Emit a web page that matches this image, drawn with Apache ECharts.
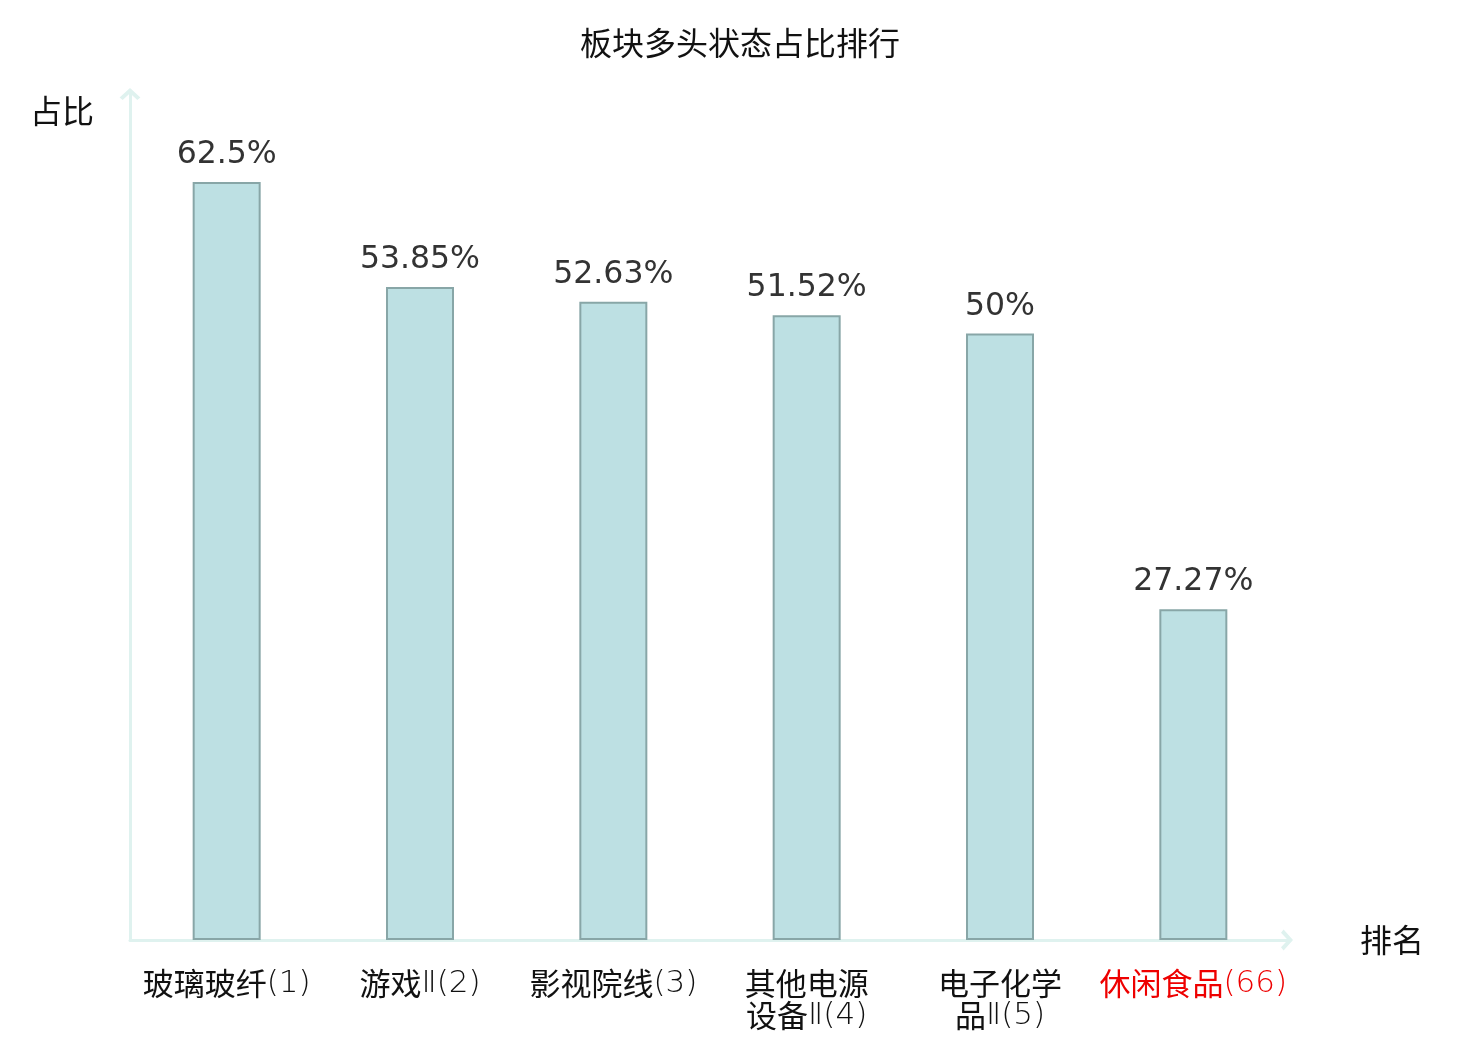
<!DOCTYPE html>
<html>
<head>
<meta charset="utf-8">
<title>板块多头状态占比排行</title>
<style>
    html, body { margin: 0; padding: 0; background: #fff; }
    #main { width: 1480px; height: 1040px; }
</style>
</head>
<body>
<div id="main"></div>
<script src="https://cdn.jsdelivr.net/npm/echarts@6/dist/echarts.min.js"></script>
<script type="text/javascript">
    var categories = ['玻璃玻纤(1)', '游戏Ⅱ(2)', '影视院线(3)', '其他电源设备Ⅱ(4)', '电子化学品Ⅱ(5)', '休闲食品(66)'];
    var ratios = [62.5, 53.85, 52.63, 51.52, 50, 27.27];
    var highlightName = '休闲食品(66)';

    var chart = echarts.init(document.getElementById('main'));

    // open chevron, tip pointing up (echarts rotates it along the axis)
    var chevron = 'path://M0,9 L10,0 L20,9 L17,11.5 L10,5 L3,11.5 Z';

    var axisLine = {
        show: true,
        symbol: ['none', chevron],
        symbolSize: [22, 12],
        symbolOffset: [0, -3],
        lineStyle: { color: '#dff2ef', width: 3 }
    };

    function wrapName(name) {
        var base = name.replace(/\(\d+\)$/, '');
        if (base.length <= 4) return name;
        return name.slice(0, 4) + '\n' + name.slice(4);
    }

    // chinese chars regular weight, latin/digits thin
    function richLine(line, hl) {
        var out = '', run = '', runType = null;
        for (var i = 0; i < line.length; i++) {
            var ch = line.charAt(i);
            var type = /[\u4e00-\u9fff]/.test(ch) ? 'c' : 'l';
            if (type !== runType && run) {
                out += '{' + runType + hl + '|' + run + '}';
                run = '';
            }
            runType = type;
            run += ch;
        }
        if (run) out += '{' + runType + hl + '|' + run + '}';
        return out;
    }

    var cjk = { fontSize: 31, lineHeight: 32, fontFamily: 'Noto Sans CJK SC', fontWeight: 'normal' };
    var latin = { fontSize: 31, lineHeight: 26, verticalAlign: 'bottom', fontFamily: 'DejaVu Sans', fontWeight: 200 };

    var option = {
        title: {
            text: '板块多头状态占比排行',
            left: 'center',
            top: 22,
            textStyle: { fontSize: 32, fontWeight: 'normal', color: '#111', fontFamily: 'Noto Sans CJK SC' }
        },
        grid: { left: 130, right: 190, top: 91, bottom: 100 },
        xAxis: {
            type: 'category',
            data: categories,
            name: '排名',
            nameGap: 70,
            nameTextStyle: { fontSize: 32, color: '#111', fontFamily: 'Noto Sans CJK SC' },
            axisLine: axisLine,
            axisTick: { show: false },
            axisLabel: {
                interval: 0,
                margin: 27,
                formatter: function (v) {
                    var hl = v === highlightName ? 'h' : '';
                    return wrapName(v).split('\n').map(function (l) {
                        return richLine(l, hl);
                    }).join('\n');
                },
                rich: {
                    c: Object.assign({ color: '#111' }, cjk),
                    l: Object.assign({ color: '#111' }, latin),
                    ch: Object.assign({ color: '#ee0000' }, cjk),
                    lh: Object.assign({ color: '#ee0000' }, latin)
                }
            }
        },
        yAxis: {
            type: 'value',
            min: 0,
            max: 70,
            name: '占比',
            nameGap: 0,
            nameTextStyle: {
                fontSize: 32, color: '#111', fontFamily: 'Noto Sans CJK SC',
                align: 'right', verticalAlign: 'top', padding: [4, 36, 0, 0]
            },
            axisLine: axisLine,
            axisTick: { show: false },
            axisLabel: { show: false },
            splitLine: { show: false }
        },
        series: [{
            type: 'bar',
            data: ratios,
            barWidth: 68,
            itemStyle: { color: '#bde0e3', borderColor: '#88a6a7', borderWidth: 2 },
            label: {
                show: true,
                position: 'top',
                distance: 11,
                fontSize: 31.5,
                color: '#333',
                fontFamily: 'DejaVu Sans',
                formatter: '{c}%'
            }
        }]
    };

    chart.setOption(option);
</script>
</body>
</html>
